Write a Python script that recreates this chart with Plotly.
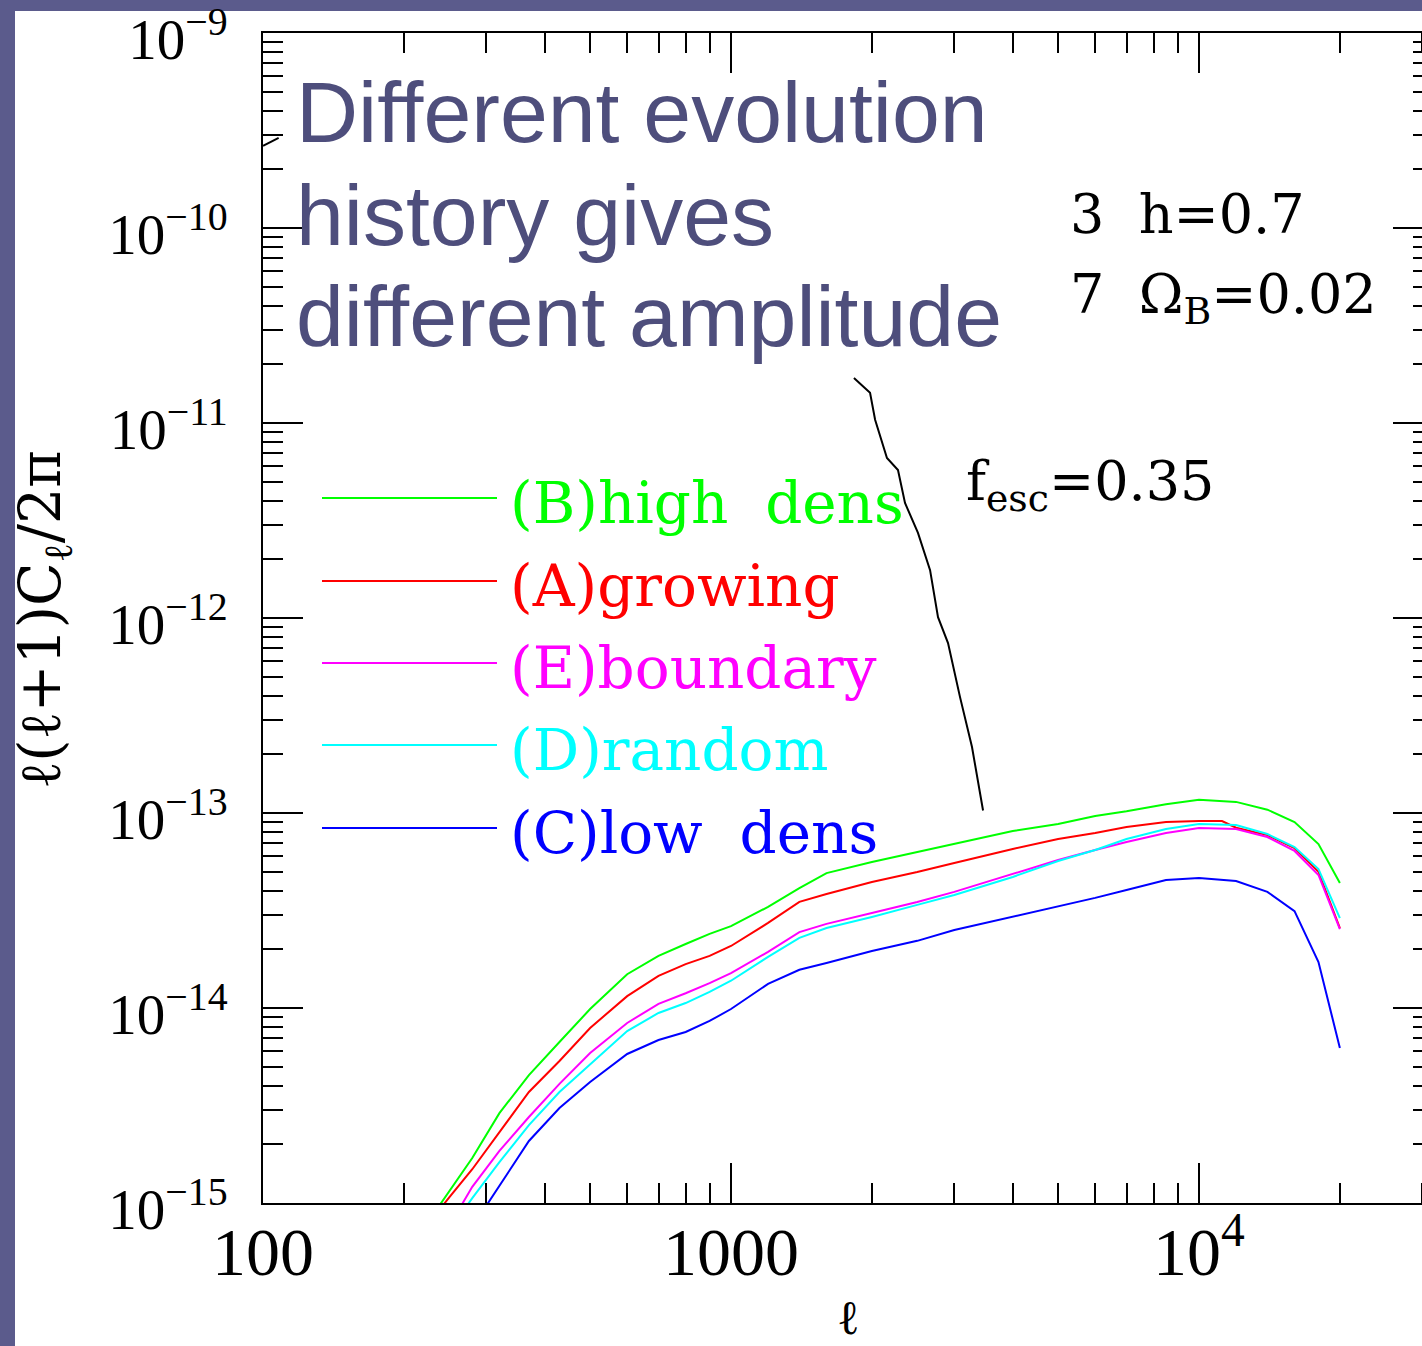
import plotly.graph_objects as go

# ---------------- data ----------------
ell_high = [230, 250, 280, 320, 370, 430, 500, 600, 700, 800, 900, 1000, 1200, 1400, 1600, 2000,
            2500, 3000, 4000, 5000, 6000, 7000, 8500, 10000, 12000, 14000, 16000, 18000, 20000]
cl_high = [8.6e-16, 1.15e-15, 1.70e-15, 2.89e-15, 4.53e-15, 6.69e-15, 9.88e-15, 1.49e-14, 1.85e-14,
           2.13e-14, 2.40e-14, 2.63e-14, 3.30e-14, 4.12e-14, 4.92e-14, 5.61e-14, 6.31e-14, 6.94e-14,
           8.09e-14, 8.78e-14, 9.65e-14, 1.02e-13, 1.11e-13, 1.17e-13, 1.14e-13, 1.04e-13, 8.99e-14,
           6.93e-14, 4.38e-14]

ell_grow = [230, 250, 280, 320, 370, 430, 500, 600, 700, 800, 900, 1000, 1200, 1400, 1600, 2000,
            2500, 3000, 4000, 5000, 6000, 7000, 8500, 10000, 11200, 12000, 14000, 16000, 18000, 20000]
cl_grow = [8.28e-16, 1.07e-15, 1.49e-15, 2.31e-15, 3.71e-15, 5.35e-15, 7.90e-15, 1.15e-14, 1.46e-14,
           1.68e-14, 1.85e-14, 2.08e-14, 2.73e-14, 3.50e-14, 3.84e-14, 4.43e-14, 4.98e-14, 5.54e-14,
           6.54e-14, 7.36e-14, 7.90e-14, 8.48e-14, 8.99e-14, 9.10e-14, 9.10e-14, 8.40e-14, 7.70e-14,
           6.60e-14, 5.00e-14, 2.57e-14]

ell_bound = [250, 280, 320, 370, 430, 500, 600, 700, 800, 900, 1000, 1200, 1400, 1600, 2000,
             2500, 3000, 4000, 5000, 6000, 7000, 8500, 10000, 12000, 14000, 16000, 18000, 20000]
cl_bound = [7.62e-16, 1.21e-15, 1.85e-15, 2.76e-15, 4.08e-15, 5.88e-15, 8.38e-15, 1.05e-14, 1.19e-14,
            1.34e-14, 1.51e-14, 1.94e-14, 2.45e-14, 2.70e-14, 3.07e-14, 3.50e-14, 3.94e-14, 4.87e-14,
            5.74e-14, 6.46e-14, 7.10e-14, 7.90e-14, 8.38e-14, 8.28e-14, 7.53e-14, 6.39e-14, 4.81e-14,
            2.54e-14]

ell_rand = [250, 280, 320, 370, 430, 500, 600, 700, 800, 900, 1000, 1200, 1400, 1600, 2000,
            2500, 3000, 4000, 5000, 6000, 7000, 8500, 10000, 12000, 14000, 16000, 18000, 20000]
cl_rand = [7.19e-16, 1.06e-15, 1.62e-15, 2.51e-15, 3.71e-15, 5.16e-15, 7.62e-15, 9.43e-15, 1.06e-14,
           1.21e-14, 1.38e-14, 1.83e-14, 2.29e-14, 2.57e-14, 2.93e-14, 3.38e-14, 3.80e-14, 4.70e-14,
           5.67e-14, 6.46e-14, 7.36e-14, 8.28e-14, 8.78e-14, 8.68e-14, 7.80e-14, 6.69e-14, 5.16e-14,
           2.89e-14]

ell_low = [280, 320, 370, 430, 500, 600, 700, 800, 900, 1000, 1200, 1400, 1600, 2000,
           2500, 3000, 4000, 5000, 6000, 7000, 8500, 10000, 12000, 14000, 16000, 18000, 20000]
cl_low = [7.53e-16, 1.22e-15, 2.08e-15, 3.07e-15, 4.17e-15, 5.81e-15, 6.85e-15, 7.53e-15, 8.58e-15,
          9.88e-15, 1.33e-14, 1.57e-14, 1.70e-14, 1.96e-14, 2.21e-14, 2.51e-14, 2.93e-14, 3.30e-14,
          3.67e-14, 4.03e-14, 4.53e-14, 4.64e-14, 4.48e-14, 3.94e-14, 3.14e-14, 1.72e-14, 6.24e-15]

# black curve partially hidden behind the slide text
ell_black = [1831, 1982, 2032, 2154, 2274, 2354, 2509, 2663, 2769, 2909, 3085, 3273, 3456]
cl_black = [1.70e-11, 1.43e-11, 1.04e-11, 6.62e-12, 5.74e-12, 3.89e-12, 2.73e-12, 1.76e-12,
            1.01e-12, 7.44e-13, 3.94e-13, 2.18e-13, 1.03e-13]
ell_stub = [100, 108]
cl_stub = [2.64e-10, 2.90e-10]

series_names = ["(B)high\u00a0\u00a0dens", "(A)growing", "(E)boundary", "(D)random", "(C)low\u00a0\u00a0dens"]
series_colors = ["#00ff00", "#ff0000", "#ff00ff", "#00ffff", "#0000ff"]
series_x = [ell_high, ell_grow, ell_bound, ell_rand, ell_low]
series_y = [cl_high, cl_grow, cl_bound, cl_rand, cl_low]

x_tickvals = [100, 1000, 10000]
x_ticktext = ["100", "1000", "10<sup>4</sup>"]
x_minor = [200, 300, 400, 500, 600, 700, 800, 900,
           2000, 3000, 4000, 5000, 6000, 7000, 8000, 9000, 20000, 30000]
y_exponents = [-15, -14, -13, -12, -11, -10, -9]
y_tickvals = [10.0 ** e for e in y_exponents]
y_ticktext = ["10<sup>\u2212%d</sup>" % (-e) for e in y_exponents]
y_minor = [k * 10.0 ** e for e in y_exponents[:-1] for k in range(2, 10)]

title_lines = ["Different evolution", "history gives", "different amplitude"]

# ---------------- layout geometry ----------------
W, H = 1440, 1346          # the right frame edge lies just outside the 1422 px window
L, R, T, B = 263, 7, 33, 143
PW = W - L - R
PH = H - T - B
DECADE_PX = 468.0


def pxx(x):
    return (x - L) / PW


def pxy(y):
    return (H - B - y) / PH


SLIDE = "#5b5b8c"
TITLE_COL = "#4e4e7c"
SERIF = "DejaVu Serif"
TICKFONT = "Liberation Serif"

fig = go.Figure()
for name, xs, ys, col in zip(series_names, series_x, series_y, series_colors):
    fig.add_trace(go.Scatter(x=xs, y=ys, mode="lines", name=name,
                             line=dict(color=col, width=2)))
fig.add_trace(go.Scatter(x=ell_black, y=cl_black, mode="lines", line=dict(color="black", width=2),
                         name="black"))
fig.add_trace(go.Scatter(x=ell_stub, y=cl_stub, mode="lines", line=dict(color="black", width=2),
                         name="stub"))

axis_common = dict(showline=True, linecolor="black", linewidth=2, mirror="ticks",
                   ticks="inside", ticklen=40, tickwidth=2, tickcolor="black",
                   showgrid=False, zeroline=False, ticklabeloverflow="allow", automargin=False)

fig.update_xaxes(type="log", range=[2 - 1e-5, 2 + PW / DECADE_PX], tickmode="array",
                 tickvals=x_tickvals, ticktext=x_ticktext,
                 tickfont=dict(family=TICKFONT, size=68, color="black"),
                 ticklabelstandoff=-12,
                 minor=dict(tickmode="array", tickvals=x_minor, ticks="inside", ticklen=20,
                            tickwidth=2, tickcolor="black", showgrid=False),
                 **axis_common)
fig.update_yaxes(type="log", range=[-15 - 1e-5, -9 + 1e-5], tickmode="array",
                 tickvals=y_tickvals, ticktext=y_ticktext,
                 tickfont=dict(family=TICKFONT, size=57, color="black"),
                 ticklabelstandoff=22, ticklabelshift=6,
                 minor=dict(tickmode="array", tickvals=y_minor, ticks="inside", ticklen=20,
                            tickwidth=2, tickcolor="black", showgrid=False),
                 **axis_common)

shapes = [dict(type="rect", xref="paper", yref="paper", x0=pxx(15), x1=pxx(W) + 0.02,
               y0=pxy(H) - 0.02, y1=pxy(11), fillcolor="white", line=dict(width=0), layer="below")]
legend_rows = [498, 581, 663, 745, 828]
for row, col in zip(legend_rows, series_colors):
    shapes.append(dict(type="line", xref="paper", yref="paper", x0=pxx(322), x1=pxx(497),
                       y0=pxy(row), y1=pxy(row), line=dict(color=col, width=2)))

annotations = []
for txt, yc in zip(title_lines, [112, 215, 316]):
    annotations.append(dict(text=txt, xref="paper", yref="paper", x=pxx(294), y=pxy(yc),
                            xanchor="left", yanchor="middle", showarrow=False,
                            font=dict(family="Liberation Sans", size=86, color=TITLE_COL)))
for name, col, row in zip(series_names, series_colors, legend_rows):
    annotations.append(dict(text=name, xref="paper", yref="paper", x=pxx(508), y=pxy(row + 5),
                            xanchor="left", yanchor="middle", showarrow=False,
                            font=dict(family=SERIF, size=58, color=col)))
for txt, xl, yc in [("3\u00a0\u00a0h=0.7", 1068, 214),
                    ("7\u00a0\u00a0\u03a9<sub>B</sub>=0.02", 1068, 298),
                    ("f<sub>esc</sub>=0.35", 964, 485)]:
    annotations.append(dict(text=txt, xref="paper", yref="paper", x=pxx(xl), y=pxy(yc),
                            xanchor="left", yanchor="middle", showarrow=False,
                            font=dict(family=SERIF, size=54, color="black")))
# axis titles
annotations.append(dict(text="\u2113(\u2113+1)C<sub>\u2113</sub>/2\u03c0", xref="paper", yref="paper",
                        x=pxx(44), y=pxy(620), xanchor="center", yanchor="middle", textangle=-90,
                        showarrow=False, font=dict(family=SERIF, size=57, color="black")))
annotations.append(dict(text="\u2113", xref="paper", yref="paper", x=pxx(848), y=pxy(1317),
                        xanchor="center", yanchor="middle", showarrow=False,
                        font=dict(family=SERIF, size=48, color="black")))

fig.update_layout(width=W, height=H, margin=dict(l=L, r=R, t=T, b=B, pad=0, autoexpand=False),
                  paper_bgcolor=SLIDE, plot_bgcolor="white", showlegend=False,
                  shapes=shapes, annotations=annotations, hovermode=False)

fig.write_html("out.html", config={"displayModeBar": False},
               post_script="document.documentElement.style.overflow='hidden';"
                           "document.body.style.margin='0px';"
                           "document.body.style.overflow='hidden';")
